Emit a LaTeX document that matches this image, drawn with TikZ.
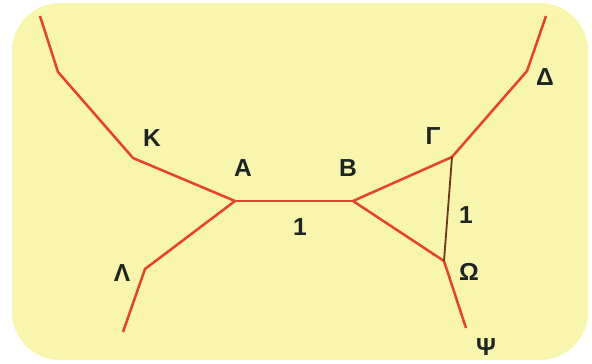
\documentclass[tikz,border=0pt]{standalone}
\usepackage{fontspec}
\setmainfont{Liberation Sans}
\usepackage{xcolor}
\usetikzlibrary{positioning}
\definecolor{paleyellow}{RGB}{248, 246, 172}
\definecolor{edgered}{RGB}{232, 66, 42}
\definecolor{edgebrown}{RGB}{110, 55, 30}
\definecolor{labelgrey}{RGB}{30, 35, 35}

\begin{document}
\begin{tikzpicture}[x=0.025cm, y=-0.025cm, every node/.style={font=\fontsize{17.5}{20}\selectfont\bfseries, text=labelgrey, inner sep=0pt}]
\useasboundingbox (0,0) rectangle (592,363);
\fill[paleyellow, rounded corners=1.2cm] (12,3) rectangle (588,360);

% vertices of the network
\coordinate (kend) at (40,16);
\coordinate (kbend1) at (58,72);
\coordinate (kbend2) at (133,158);
\coordinate (a) at (235,201);
\coordinate (b) at (353,201);
\coordinate (g) at (452,157);
\coordinate (dbend) at (527,71);
\coordinate (dend) at (546,16);
\coordinate (w) at (444,261);
\coordinate (yend) at (466,328);
\coordinate (lbend) at (145,269);
\coordinate (lend) at (123,332);

% edges
\draw[edgered, line width=1.8pt, line join=round] (kend) -- (kbend1) -- (kbend2) -- (a);
\draw[edgered, line width=1.8pt, line join=round] (a) -- (lbend) -- (lend);
\draw[edgered, line width=1.8pt] (a) -- (b);
\draw[edgered, line width=1.8pt] (b) -- (g);
\draw[edgered, line width=1.8pt] (b) -- (w);
\draw[edgered, line width=1.8pt, line join=round] (g) -- (dbend) -- (dend);
\draw[edgered, line width=1.8pt] (w) -- (yend);
\draw[edgebrown, line width=1.3pt] (g) -- (w);

% labels
\node (lk) at (152,138) {K};
\node (la) at (243,168) {A};
\node (lb) at (348,168) {B};
\node (lg) at (433,136) {Γ};
\node (ld) at (545,77) {Δ};
\node (lab) at (300,227) {1};
\node (lgw) at (466,215) {1};
\node (ll) at (122,273) {Λ};
\node (lw) at (469,272) {Ω};
\node (ly) at (486,347) {Ψ};
\end{tikzpicture}
\end{document}
